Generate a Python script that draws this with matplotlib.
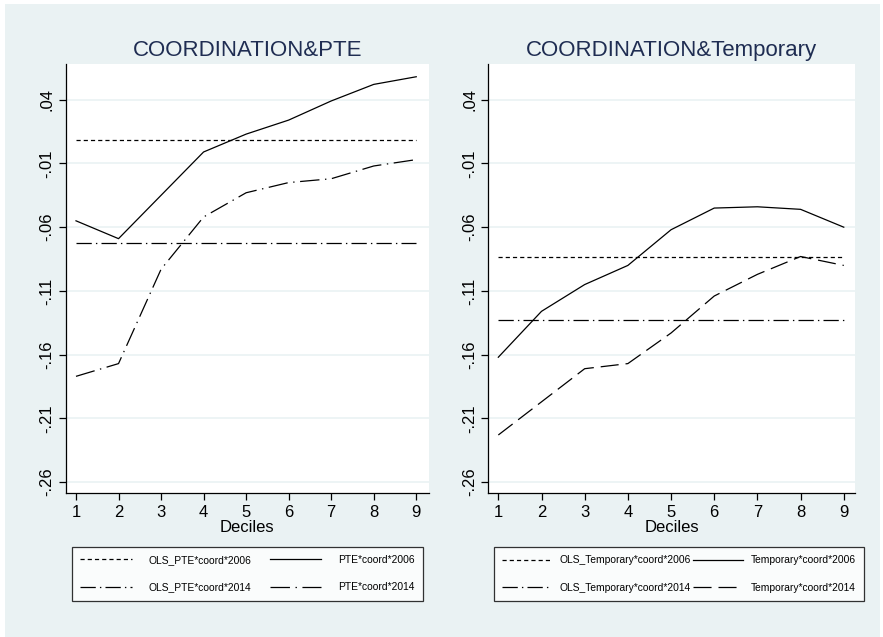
import matplotlib
matplotlib.use("Agg")
import matplotlib.pyplot as plt
from matplotlib.patches import Rectangle

# deciles on the x axis
deciles = [1, 2, 3, 4, 5, 6, 7, 8, 9]

# left panel: COORDINATION&PTE
pte_2006 = [-0.055, -0.069, -0.035, -0.001, 0.013, 0.024, 0.039, 0.052, 0.058]
pte_2014 = [-0.177, -0.167, -0.093, -0.052, -0.033, -0.025, -0.022, -0.012, -0.007]
ols_pte_2006 = 0.008
ols_pte_2014 = -0.0725

# right panel: COORDINATION&Temporary
temp_2006 = [-0.162, -0.126, -0.105, -0.090, -0.062, -0.045, -0.044, -0.046, -0.060]
temp_2014 = [-0.223, -0.197, -0.171, -0.167, -0.143, -0.114, -0.097, -0.083, -0.090]
ols_temp_2006 = -0.083
ols_temp_2014 = -0.133

yticks = [0.04, -0.01, -0.06, -0.11, -0.16, -0.21, -0.26]
ytick_labels = [".04", "-.01", "-.06", "-.11", "-.16", "-.21", "-.26"]

BG = "#EAF2F3"
TITLE_COLOR = "#1F2D52"

plt.rcParams["font.family"] = ["Liberation Sans", "DejaVu Sans"]
plt.rcParams["lines.scale_dashes"] = False

SHORT_DASH = (0, (3.0, 2.2))
DASH_DOT = (0, (11, 3, 1, 3))
LONG_DASH_DOT = (0, (14, 4, 1, 4))
LONG_DASH = (0, (13, 5))
LW = 0.9

W, H = 883, 637
fig = plt.figure(figsize=(W / 100, H / 100), dpi=100, facecolor="white")
fig.patches.append(Rectangle((5 / W, 0), (880 - 5) / W, (H - 4) / H,
                             transform=fig.transFigure, facecolor=BG,
                             edgecolor="none", zorder=-10))


def px_box(x0, y0, x1, y1):
    # pixel box (top-left origin) -> figure fraction [left, bottom, w, h]
    return [x0 / W, (H - y1) / H, (x1 - x0) / W, (y1 - y0) / H]


def draw_panel(rect, title, xlim, ols06, ols14, s06, s14, style14,
               labels, legend_box, textpad, hlen):
    ax = fig.add_axes(rect)
    ax.set_facecolor("white")
    for y in yticks:
        ax.axhline(y, color=BG, lw=1.2, zorder=0)
    h1, = ax.plot([deciles[0], deciles[-1]], [ols06, ols06], color="black",
                  lw=LW, linestyle=SHORT_DASH)
    h2, = ax.plot([deciles[0], deciles[-1]], [ols14, ols14], color="black",
                  lw=LW, linestyle=DASH_DOT)
    h3, = ax.plot(deciles, s06, color="black", lw=LW, linestyle="-")
    h4, = ax.plot(deciles, s14, color="black", lw=LW, linestyle=style14)

    ax.set_xlim(*xlim)
    ax.set_ylim(-0.2685, 0.068)
    ax.set_xticks(deciles)
    ax.set_yticks(yticks)
    ax.set_yticklabels(ytick_labels, rotation=90, va="center")
    ax.tick_params(axis="both", labelsize=12, length=5, width=0.9,
                   color="black", direction="out")
    ax.tick_params(axis="y", pad=3)
    for s in ["top", "right"]:
        ax.spines[s].set_visible(False)
    for s in ["left", "bottom"]:
        ax.spines[s].set_linewidth(0.9)
    ax.set_xlabel("Deciles", fontsize=12, labelpad=0)
    ax.set_title(title, fontsize=16, color=TITLE_COLOR)

    leg = fig.legend([h1, h2, h3, h4], labels, ncol=2, mode="expand",
                     loc="upper left", bbox_to_anchor=px_box(*legend_box),
                     bbox_transform=fig.transFigure, borderaxespad=0,
                     fontsize=7.4, handlelength=hlen, handletextpad=textpad,
                     labelspacing=1.7, columnspacing=0.1,
                     frameon=True, fancybox=False, edgecolor="black",
                     borderpad=0.8)
    leg.get_frame().set_linewidth(0.9)
    leg.get_frame().set_facecolor("white")
    return ax


draw_panel(px_box(65.7, 64, 429, 493), "COORDINATION&PTE", (0.758, 9.3),
           ols_pte_2006, ols_pte_2014, pte_2006, pte_2014, LONG_DASH_DOT,
           ["OLS_PTE*coord*2006", "OLS_PTE*coord*2014",
            "PTE*coord*2006", "PTE*coord*2014"],
           (72, 546.7, 422.7, 602.3), 1.6, 5.0)

draw_panel(px_box(488.3, 64, 855, 493), "COORDINATION&Temporary", (0.768, 9.26),
           ols_temp_2006, ols_temp_2014, temp_2006, temp_2014, LONG_DASH,
           ["OLS_Temporary*coord*2006", "OLS_Temporary*coord*2014",
            "Temporary*coord*2006", "Temporary*coord*2014"],
           (494, 547, 864.3, 602.3), 0.8, 4.8)

fig.savefig("out.png", dpi=100, facecolor=fig.get_facecolor())
